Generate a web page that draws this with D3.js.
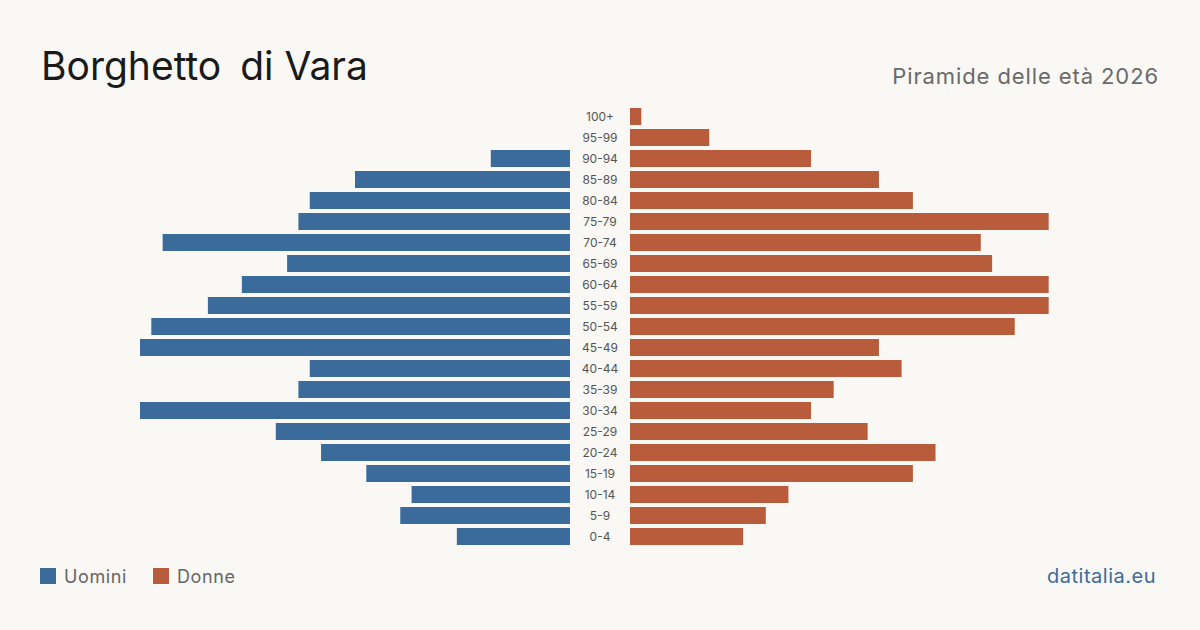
<!DOCTYPE html>
<html lang="it">
<head>
<meta charset="utf-8">
<title>Borghetto di Vara</title>
<style>
body { margin: 0; background: #f9f8f4; }
svg { display: block; font-family: Inter, "Noto Sans", sans-serif; }
.age { font-size: 12px; fill: #555; text-anchor: middle; }
.legend { font-size: 18px; fill: #666; letter-spacing: 0.6px; }
</style>
</head>
<body>
<script src="https://d3js.org/d3.v7.min.js"></script>
<script>

var ages = ["100+", "95-99", "90-94", "85-89", "80-84", "75-79", "70-74", "65-69",
            "60-64", "55-59", "50-54", "45-49", "40-44", "35-39", "30-34", "25-29",
            "20-24", "15-19", "10-14", "5-9", "0-4"];
var uomini = [0, 0, 7, 19, 23, 24, 36, 25, 29, 32, 37, 38, 23, 24, 38, 26, 22, 18, 14, 15, 10];
var donne  = [1, 7, 16, 22, 25, 37, 31, 32, 37, 37, 34, 22, 24, 18, 16, 21, 27, 25, 14, 12, 10];

var width = 1200, height = 630;
var blue = "#3b6b9b", red = "#b95c3c";

var svg = d3.select("body").append("svg")
    .attr("width", width)
    .attr("height", height);

svg.append("rect").attr("width", width).attr("height", height).attr("fill", "#f9f8f4");

// titles
var title = svg.append("text")
    .attr("x", 41).attr("y", 80)
    .attr("font-size", 39)
    .attr("fill", "#1a1a1a");
title.append("tspan").text("Borghetto");
title.append("tspan").attr("dx", 8).text(" di Vara");

svg.append("text")
    .attr("x", 1159).attr("y", 84)
    .attr("font-size", 22)
    .attr("fill", "#6a6a6a")
    .attr("letter-spacing", "0.9px")
    .attr("text-anchor", "end")
    .text("Piramide delle età 2026");

// scales
var y = d3.scaleBand().domain(ages).range([106, 547]).paddingInner(4 / 21).paddingOuter(2 / 21);
var maxV = d3.max(uomini.concat(donne));
var xl = d3.scaleLinear().domain([0, maxV]).range([570, 140]);
var xr = d3.scaleLinear().domain([0, maxV]).range([630, 1060]);

var g = svg.append("g");

g.selectAll(".m").data(ages).join("rect")
    .attr("class", "m")
    .attr("x", (d, i) => xl(uomini[i]))
    .attr("y", d => y(d))
    .attr("width", (d, i) => xl(0) - xl(uomini[i]))
    .attr("height", y.bandwidth())
    .attr("fill", blue);

g.selectAll(".f").data(ages).join("rect")
    .attr("class", "f")
    .attr("x", xr(0))
    .attr("y", d => y(d))
    .attr("width", (d, i) => xr(donne[i]) - xr(0))
    .attr("height", y.bandwidth())
    .attr("fill", red);

g.selectAll(".age").data(ages).join("text")
    .attr("class", "age")
    .attr("x", 600)
    .attr("y", d => y(d) + y.bandwidth() / 2 + 4)
    .text(d => d);

// legend
var leg = [["Uomini", blue, 40], ["Donne", red, 153]];
leg.forEach(function(l) {
    svg.append("rect").attr("x", l[2]).attr("y", 568).attr("width", 16).attr("height", 16).attr("fill", l[1]);
    svg.append("text").attr("class", "legend").attr("x", l[2] + 24).attr("y", 583).text(l[0]);
});

svg.append("text")
    .attr("x", 1156).attr("y", 583)
    .attr("font-size", 20)
    .attr("fill", "#3b6b9b")
    .attr("letter-spacing", "0.5px")
    .attr("text-anchor", "end")
    .text("datitalia.eu");

</script>
</body>
</html>
